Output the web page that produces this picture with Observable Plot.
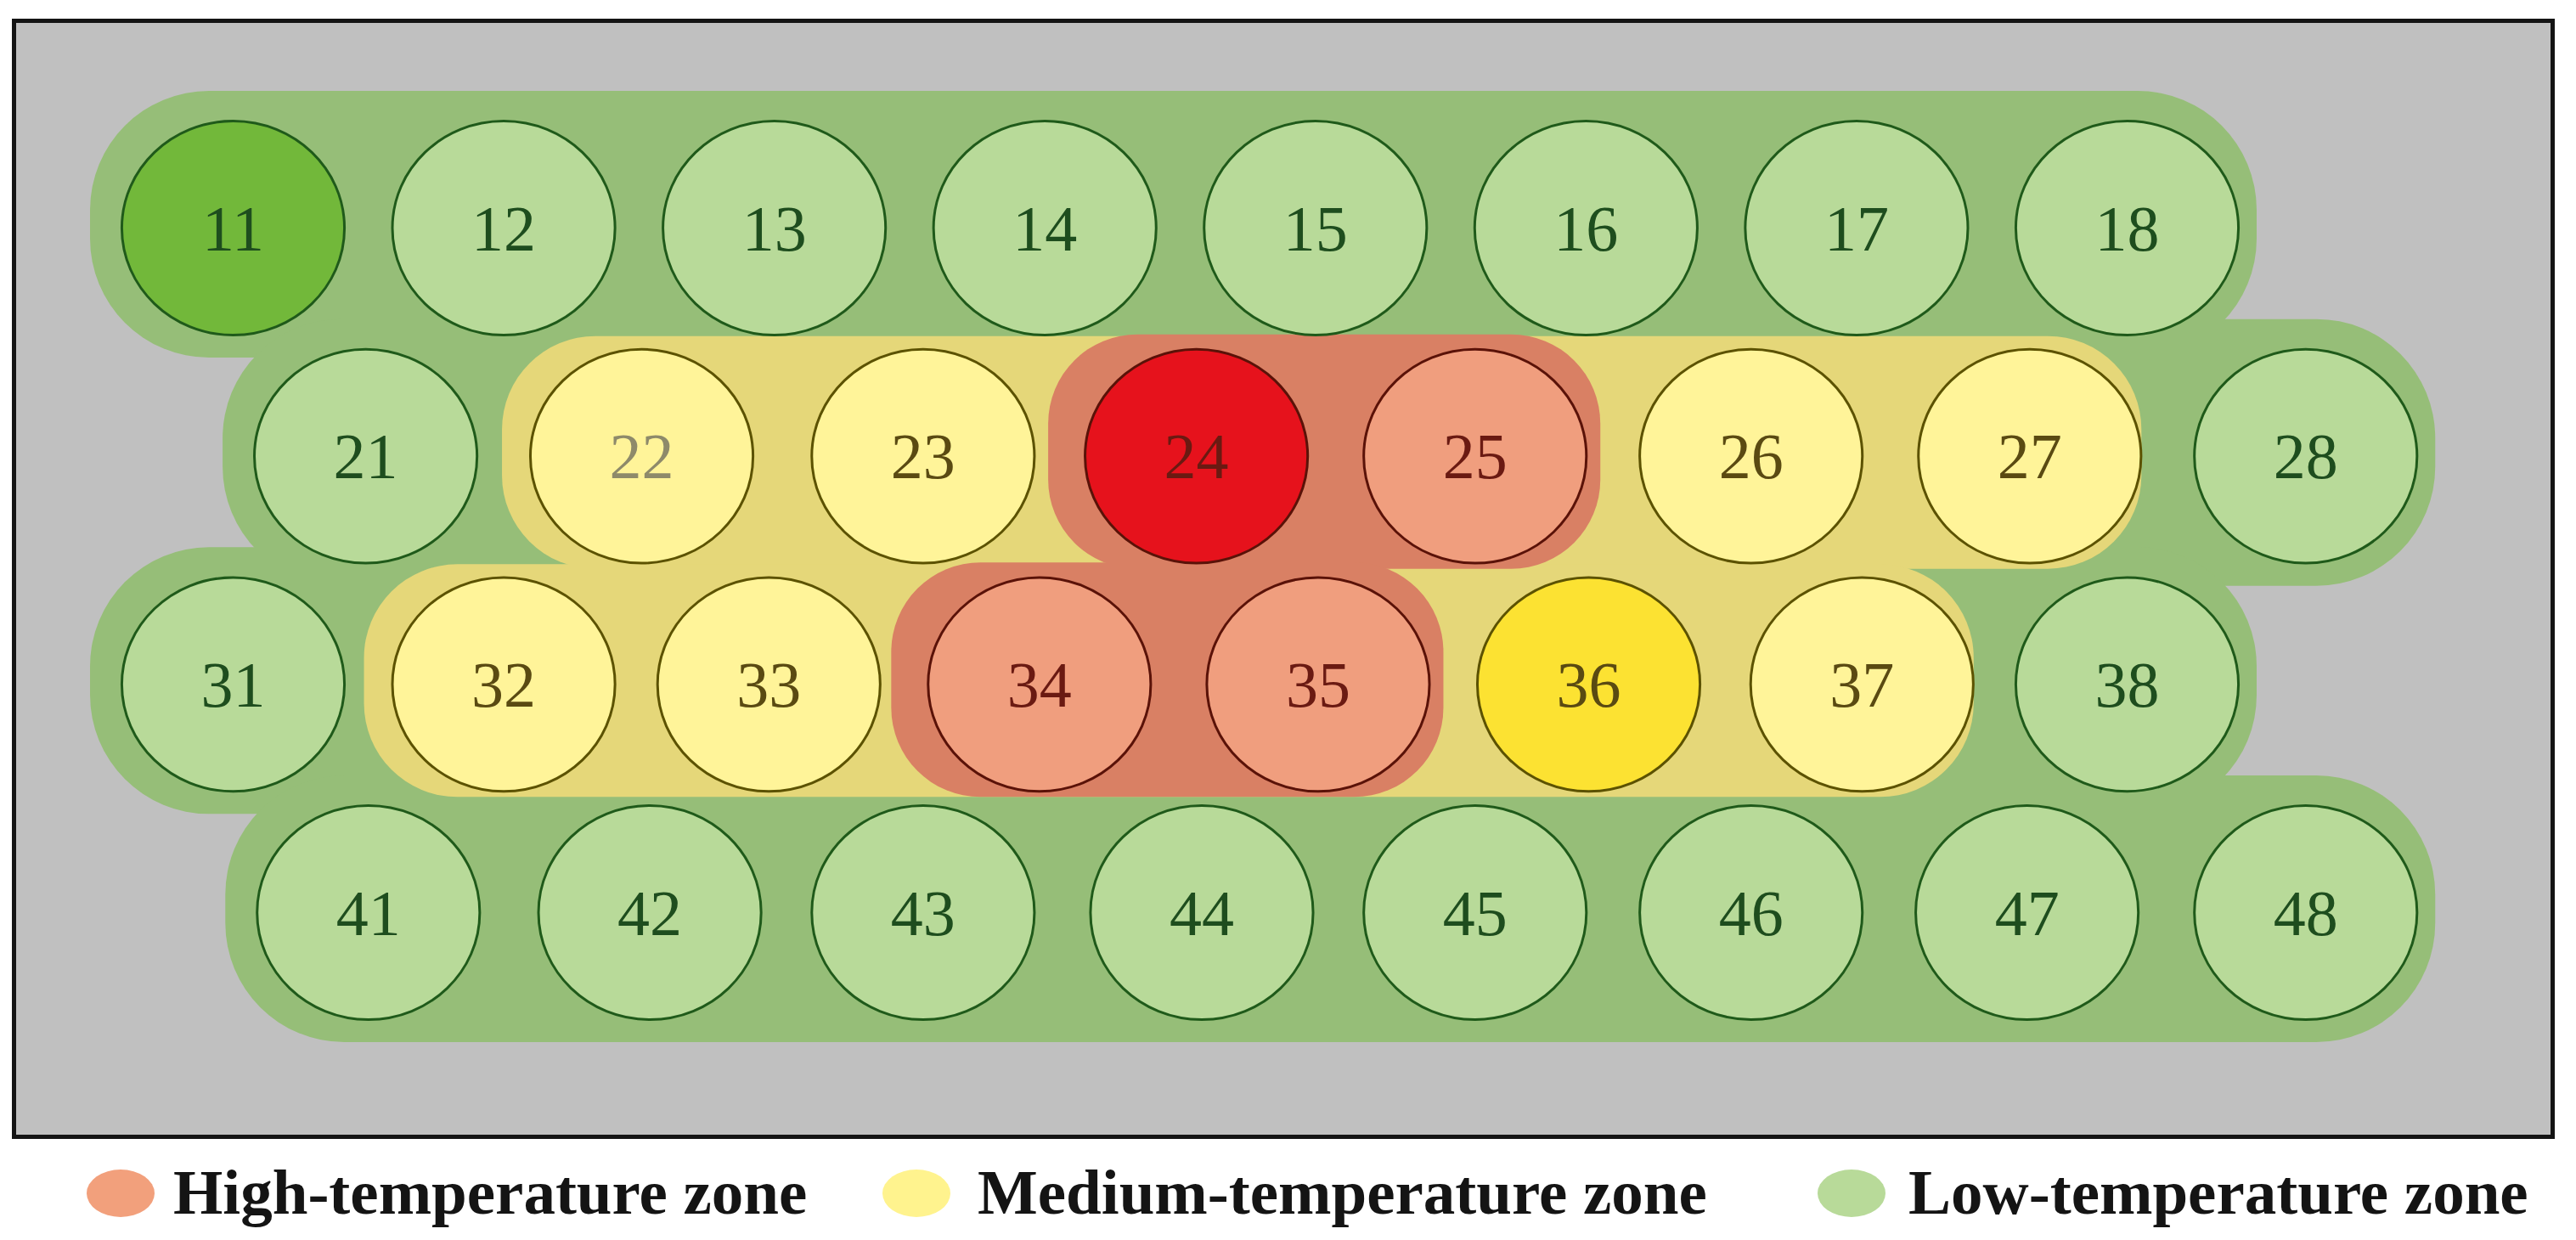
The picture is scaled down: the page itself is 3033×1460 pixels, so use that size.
<!DOCTYPE html>
<html>
<head>
<meta charset="utf-8">
<script src="https://cdn.jsdelivr.net/npm/d3@7"></script>
<script src="https://cdn.jsdelivr.net/npm/@observablehq/plot@0.6"></script>
<style>
  html, body { margin: 0; padding: 0; background: #ffffff; }
  #wrap { position: relative; width: 3033px; height: 1460px; }
  #chart { position: absolute; left: 0; top: 0; }
  .lg-mark { position: absolute; width: 80px; height: 56px; border-radius: 50%; top: 1377px; }
  .lg-text { position: absolute; top: 1366px; font-family: "Liberation Serif", "DejaVu Serif", serif; font-weight: bold; font-size: 75px; line-height: 75px; color: #141414; white-space: nowrap; }
</style>
</head>
<body>
<div id="wrap">
  <div id="chart"></div>
  <div id="legend"></div>
</div>
<script>
// ---- data ----
const ids   = [11,12,13,14,15,16,17,18, 21,22,23,24,25,26,27,28, 31,32,33,34,35,36,37,38, 41,42,43,44,45,46,47,48];
const rows  = [1,1,1,1,1,1,1,1, 2,2,2,2,2,2,2,2, 3,3,3,3,3,3,3,3, 4,4,4,4,4,4,4,4];
const cols  = [1,2,3,4,5,6,7,8,
               1.49,2.51,3.55,4.56,5.59,6.61,7.64,8.66,
               1,2,2.98,3.98,5.01,6.01,7.02,8,
               1.5,2.54,3.55,4.58,5.59,6.61,7.63,8.66];
const zones = ["Low","Low","Low","Low","Low","Low","Low","Low",
               "Low","Medium","Medium","High","High","Medium","Medium","Low",
               "Low","Medium","Medium","High","High","Medium","Medium","Low",
               "Low","Low","Low","Low","Low","Low","Low","Low"];
const peaks = [11, 24, 36];
const legendLabels = ["High-temperature zone", "Medium-temperature zone", "Low-temperature zone"];
const legendZones  = ["High", "Medium", "Low"];

// ---- styles ----
const zoneFill   = {Low: "#96be78", Medium: "#e5d779", High: "#d98064"};
const circleFill = {Low: "#b8da99", Medium: "#fff499", High: "#f09e7e"};
const peakFill   = {Low: "#72b83a", Medium: "#fce232", High: "#e6121c"};
const ringColor  = {Low: "#1f5a1a", Medium: "#5c5200", High: "#5a1208"};
const textColor  = {Low: "#1e4d1e", Medium: "#5a4a12", High: "#6a1a12"};
const legendFill = {High: "#f2a07c", Medium: "#fff38e", Low: "#b8da99"};
const rank = {Low: 0, Medium: 1, High: 2};
const pads = {
  Low:    {l: 168, r: 153, t: 161, b: 153, c: 140},
  Medium: {l: 164, r: 132, t: 141, b: 133, c: 110},
  High:   {l: 174, r: 148, t: 143, b: 133, c: 105}
};

const circles = ids.map((id, i) => ({id, row: rows[i], col: cols[i], zone: zones[i], peak: peaks.includes(id)}));

// zone bands: for each level, per row, span of circles at or above that level
function bandsFor(level) {
  const sel = circles.filter(d => rank[d.zone] >= rank[level]);
  return Array.from(d3.group(sel, d => d.row), ([row, g]) => ({
    row, x1: d3.min(g, d => d.col), x2: d3.max(g, d => d.col), zone: level
  }));
}

// slightly elliptical symbol (the reference rings are a bit wider than tall)
const ellipse = {
  draw(ctx, size) {
    const r = Math.sqrt(size / Math.PI), rx = r * 1.02, ry = r * 0.98, k = 0.5522847498;
    ctx.moveTo(rx, 0);
    ctx.bezierCurveTo(rx, ry * k, rx * k, ry, 0, ry);
    ctx.bezierCurveTo(-rx * k, ry, -rx, ry * k, -rx, 0);
    ctx.bezierCurveTo(-rx, -ry * k, -rx * k, -ry, 0, -ry);
    ctx.bezierCurveTo(rx * k, -ry, rx, -ry * k, rx, 0);
    ctx.closePath();
  }
};

const W = 3033, H = 1360;
const mL = 16, mR = 28, mT = 24, mB = 22;
// one column unit / one row unit in pixels
const colPx = (2504 - 274) / 7, rowPx = (1074 - 268) / 3;
const xDomain = [1 - (274 - mL) / colPx, 1 + (W - mR - 274) / colPx];
const yDomain = [1 - (268 - mT) / rowPx, 1 + (H - mB - 268) / rowPx];

const bandMark = (level) => {
  const p = pads[level];
  return Plot.rect(bandsFor(level), {
    x1: "x1", x2: "x2", y1: "row", y2: "row",
    fill: zoneFill[level],
    insetLeft: -p.l, insetRight: -p.r, insetTop: -p.t, insetBottom: -p.b,
    rx: p.c, ry: p.c
  });
};

const chart = Plot.plot({
  width: W, height: H,
  marginLeft: mL, marginRight: mR, marginTop: mT, marginBottom: mB,
  x: {domain: xDomain, range: [mL, W - mR], axis: null},
  y: {domain: yDomain, range: [mT, H - mB], axis: null},
  color: {type: "identity"},
  style: {background: "transparent", overflow: "visible"},
  marks: [
    Plot.frame({fill: "#c0c0c0", stroke: "#141414", strokeWidth: 5}),
    bandMark("Low"),
    bandMark("Medium"),
    bandMark("High"),
    Plot.dot(circles, {
      x: "col", y: "row", r: 128.5, symbol: ellipse,
      fill: d => d.peak ? peakFill[d.zone] : circleFill[d.zone],
      stroke: d => ringColor[d.zone], strokeWidth: 3
    }),
    Plot.text(circles, {
      x: "col", y: "row", text: d => String(d.id),
      fill: d => d.id === 22 ? "#8e8a6a" : textColor[d.zone],
      fontSize: 76, fontFamily: "Liberation Serif, DejaVu Serif, serif",
      dy: 2
    })
  ]
});
document.getElementById("chart").appendChild(chart);

// ---- legend (below the chart) ----
const legendMarkX = [102, 1039, 2140];
const legendTextX = [204, 1151, 2247];
const lg = document.getElementById("legend");
legendLabels.forEach((label, i) => {
  const m = document.createElement("div");
  m.className = "lg-mark";
  m.style.left = legendMarkX[i] + "px";
  m.style.background = legendFill[legendZones[i]];
  lg.appendChild(m);
  const t = document.createElement("div");
  t.className = "lg-text";
  t.style.left = legendTextX[i] + "px";
  t.textContent = label;
  lg.appendChild(t);
});
</script>
</body>
</html>
